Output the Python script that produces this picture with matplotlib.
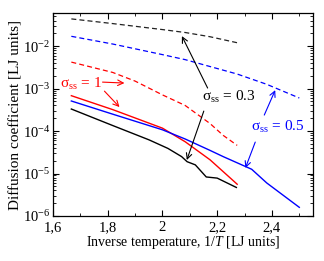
import numpy as np
import matplotlib
matplotlib.use('Agg')
import matplotlib.pyplot as plt
from matplotlib.ticker import FuncFormatter, MultipleLocator, LogLocator, LogFormatterMathtext, NullFormatter

plt.rcParams['font.family'] = ['Liberation Serif', 'DejaVu Serif']
plt.rcParams['mathtext.fontset'] = 'custom'
plt.rcParams['mathtext.rm'] = 'Liberation Serif'
plt.rcParams['mathtext.it'] = 'Liberation Serif:italic'

# =======================
# data (1/T, D)
# =======================
x_black_dash = [1.667, 1.818, 2.0, 2.083, 2.174, 2.273]
d_black_dash = [4.37e-2, 3.39e-2, 2.45e-2, 2.09e-2, 1.66e-2, 1.20e-2]

x_blue_dash = [1.667, 1.818, 2.0, 2.083, 2.174, 2.273, 2.381, 2.5]
d_blue_dash = [1.70e-2, 1.12e-2, 6.3e-3, 4.8e-3, 3.3e-3, 2.2e-3, 1.26e-3, 6.0e-4]

x_red_dash = [1.667, 1.818, 1.9, 2.0, 2.083, 2.174, 2.222, 2.273]
d_red_dash = [4.2e-3, 2.4e-3, 1.5e-3, 7.1e-4, 4.0e-4, 1.5e-4, 7.9e-5, 4.6e-5]

x_red = [1.667, 1.818, 2.0, 2.083, 2.174, 2.273]
d_red = [6.8e-4, 3.2e-4, 1.17e-4, 5.6e-5, 2.1e-5, 5.6e-6]

x_blue = [1.667, 1.818, 2.0, 2.083, 2.174, 2.222, 2.326, 2.381, 2.5]
d_blue = [5.1e-4, 2.5e-4, 1.07e-4, 6.5e-5, 3.5e-5, 2.5e-5, 1.26e-5, 6.0e-6, 1.6e-6]

x_black = [1.667, 1.818, 1.951, 2.02, 2.07, 2.09, 2.12, 2.16, 2.2, 2.27]
d_black = [3.3e-4, 1.35e-4, 6.2e-5, 3.9e-5, 2.5e-5, 1.9e-5, 1.6e-5, 8.3e-6, 7.8e-6, 4.7e-6]

# =======================
# figure
# =======================
fig = plt.figure(figsize=(3.24, 2.61), dpi=100)
ax = fig.add_axes([0.1636, 0.1724, 0.8024, 0.7776])

dash = (0, (4, 2.5))
ax.plot(x_black_dash, d_black_dash, color='#222222', lw=0.9, ls=dash)
ax.plot(x_blue_dash, d_blue_dash, color='blue', lw=0.9, ls=dash)
ax.plot(x_red_dash, d_red_dash, color='red', lw=0.9, ls=dash)
ax.plot(x_red, d_red, color='red', lw=1.0)
ax.plot(x_blue, d_blue, color='blue', lw=1.0)
ax.plot(x_black, d_black, color='black', lw=1.0)

ax.set_yscale('log')
ax.set_xlim(1.6, 2.55)
ax.set_ylim(1e-6, 6e-2)

ax.xaxis.set_major_locator(MultipleLocator(0.2))
ax.xaxis.set_minor_locator(MultipleLocator(0.1))
ax.xaxis.set_major_formatter(FuncFormatter(lambda v, p: ('%g' % round(v, 2)).replace('.', ',')))
ax.yaxis.set_major_locator(LogLocator(base=10, numticks=10))
ax.yaxis.set_minor_locator(LogLocator(base=10, subs=np.arange(2, 10), numticks=10))
ax.yaxis.set_major_formatter(LogFormatterMathtext())
ax.yaxis.set_minor_formatter(NullFormatter())

ax.tick_params(which='both', direction='in', top=True, right=True, labelsize=10.5, pad=2)
ax.tick_params(axis='x', which='major', pad=3.5)
ax.tick_params(which='major', length=4, width=0.8)
ax.tick_params(which='minor', length=2, width=0.6)
for s in ax.spines.values():
    s.set_linewidth(0.9)

ax.set_xlabel('Inverse temperature, 1/$T$ [LJ units]', fontsize=10, labelpad=0)
ax.set_ylabel('Diffusion coefficient [LJ units]', fontsize=11, labelpad=0)

# =======================
# annotations
# =======================
arr = dict(arrowstyle='->', lw=0.8, shrinkA=0, shrinkB=0)

ax.text(1.625, 1.28e-3, r'σ$_{\rm ss}$ = 1', color='red', fontsize=11, va='center', ha='left')
ax.annotate('', xy=(1.861, 1.35e-3), xytext=(1.781, 1.42e-3), arrowprops=dict(arr, color='red'))
ax.annotate('', xy=(1.843, 3.67e-4), xytext=(1.788, 8.7e-4), arrowprops=dict(arr, color='red'))

ax.text(2.143, 6.3e-4, r'σ$_{\rm ss}$ = 0.3', color='black', fontsize=11, va='center', ha='left')
ax.annotate('', xy=(2.071, 1.72e-2), xytext=(2.165, 1.03e-3), arrowprops=dict(arr, color='black'))
ax.annotate('', xy=(2.089, 2.08e-5), xytext=(2.151, 2.95e-4), arrowprops=dict(arr, color='black'))

ax.text(2.325, 1.24e-4, r'σ$_{\rm ss}$ = 0.5', color='blue', fontsize=11, va='center', ha='left')
ax.annotate('', xy=(2.412, 9.2e-4), xytext=(2.372, 2.38e-4), arrowprops=dict(arr, color='blue'))
ax.annotate('', xy=(2.303, 1.35e-5), xytext=(2.339, 5.5e-5), arrowprops=dict(arr, color='blue'))

plt.savefig('out.png', dpi=100)
plt.close()
